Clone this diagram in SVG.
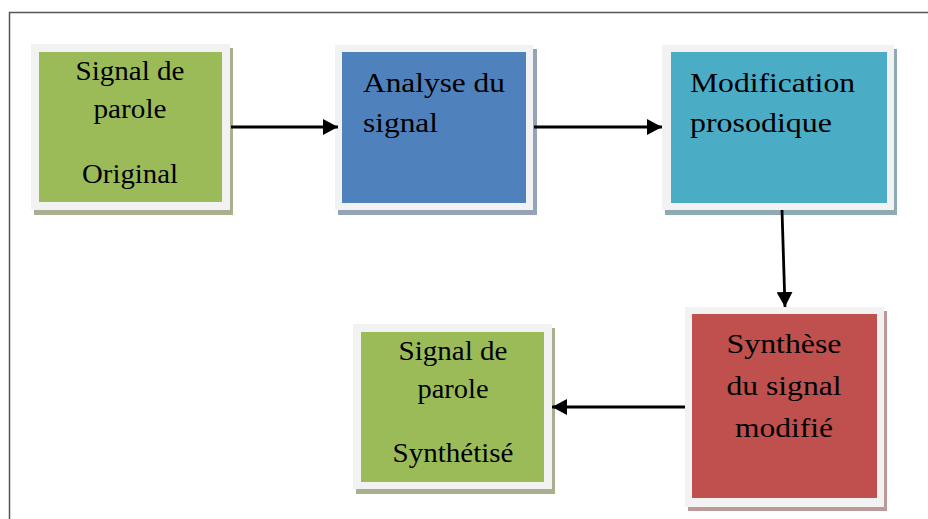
<svg xmlns="http://www.w3.org/2000/svg" width="928" height="519" viewBox="0 0 928 519">
  <style>
    .frame { fill: none; stroke: #555555; stroke-width: 1.5; }
    .mat { fill: #f2f2f2; }
    text { font-family: 'Liberation Serif', 'Times New Roman', 'DejaVu Serif', serif; font-size: 27px; fill: #000000; }
    .big { font-size: 28px; }
    .mid { text-anchor: middle; }
    .link { stroke: #000000; stroke-width: 2.8; fill: none; marker-end: url(#head); }
  </style>
  <defs>
    <marker id="head" viewBox="0 0 15 16" refX="15" refY="8" markerWidth="15" markerHeight="16" markerUnits="userSpaceOnUse" orient="auto">
      <path d="M0,0 L15,8 L0,16 Z" fill="#000000"/>
    </marker>
  </defs>

  <rect width="928" height="519" fill="#ffffff"/>
  <rect class="frame" x="9.5" y="12.5" width="940" height="540"/>

  <!-- source speech signal -->
  <g id="signal-original">
    <rect x="34" y="48" width="199" height="167" fill="#a9b08f"/>
    <rect class="mat" x="31" y="44" width="199" height="166"/>
    <rect x="39" y="52" width="183" height="150" fill="#9bbb59"/>
    <text class="mid" x="130" y="80" textLength="109" lengthAdjust="spacingAndGlyphs">Signal de</text>
    <text class="mid" x="130" y="118" textLength="73" lengthAdjust="spacingAndGlyphs">parole</text>
    <text class="mid" x="130" y="183" textLength="96" lengthAdjust="spacingAndGlyphs">Original</text>
  </g>

  <!-- analysis stage -->
  <g id="analyse">
    <rect x="338" y="49" width="199" height="166" fill="#95a3b8"/>
    <rect class="mat" x="335" y="45" width="198" height="165"/>
    <rect x="342" y="52" width="184" height="151" fill="#4f81bd"/>
    <text class="big" x="363" y="92" textLength="142" lengthAdjust="spacingAndGlyphs">Analyse du</text>
    <text class="big" x="363" y="132" textLength="75" lengthAdjust="spacingAndGlyphs">signal</text>
  </g>

  <!-- prosodic modification stage -->
  <g id="modification">
    <rect x="665" y="49" width="232" height="166" fill="#8eaab3"/>
    <rect class="mat" x="662" y="45" width="232" height="165"/>
    <rect x="671" y="52" width="216" height="151" fill="#4bacc6"/>
    <text class="big" x="690" y="92" textLength="165" lengthAdjust="spacingAndGlyphs">Modification</text>
    <text class="big" x="690" y="132" textLength="142" lengthAdjust="spacingAndGlyphs">prosodique</text>
  </g>

  <!-- synthesis stage -->
  <g id="synthese">
    <rect x="688" y="311" width="199" height="200" fill="#bd9a99"/>
    <rect class="mat" x="685" y="307" width="199" height="200"/>
    <rect x="692" y="314" width="185" height="184" fill="#c0504d"/>
    <text class="big mid" x="784" y="353" textLength="115" lengthAdjust="spacingAndGlyphs">Synthèse</text>
    <text class="big mid" x="784" y="395" textLength="115" lengthAdjust="spacingAndGlyphs">du signal</text>
    <text class="big mid" x="784" y="437" textLength="98" lengthAdjust="spacingAndGlyphs">modifié</text>
  </g>

  <!-- synthesised speech signal -->
  <g id="signal-synthetise">
    <rect x="356" y="328" width="199" height="166" fill="#a9b08f"/>
    <rect class="mat" x="353" y="324" width="199" height="165"/>
    <rect x="361" y="332" width="183" height="150" fill="#9bbb59"/>
    <text class="mid" x="453" y="360" textLength="109" lengthAdjust="spacingAndGlyphs">Signal de</text>
    <text class="mid" x="453" y="398" textLength="71" lengthAdjust="spacingAndGlyphs">parole</text>
    <text class="mid" x="453" y="462" textLength="121" lengthAdjust="spacingAndGlyphs">Synthétisé</text>
  </g>

  <g id="connectors">
    <line class="link" x1="231" y1="127" x2="338" y2="127"/>
    <line class="link" x1="534" y1="127" x2="662" y2="127"/>
    <line class="link" x1="782" y1="210" x2="785" y2="307"/>
    <line class="link" x1="685" y1="407" x2="552" y2="407"/>
  </g>
</svg>
